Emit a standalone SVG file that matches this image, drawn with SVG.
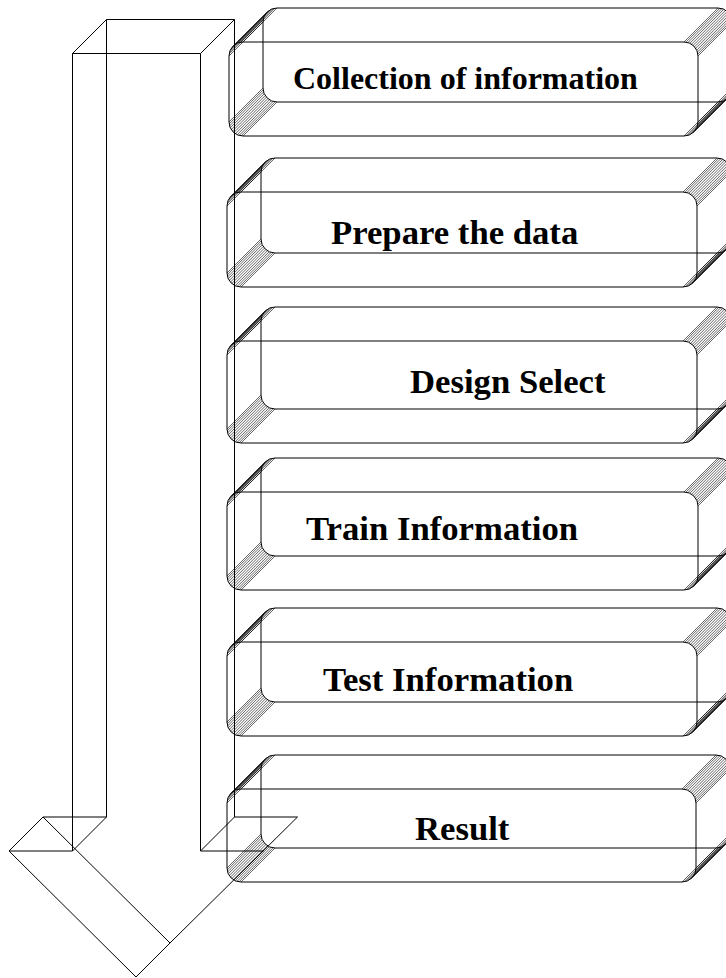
<svg xmlns="http://www.w3.org/2000/svg" width="726" height="978" viewBox="0 0 726 978">
<style>
.e{fill:none;stroke:#000;stroke-width:1}
.h{fill:none;stroke:#000;stroke-width:0.6}
.t{font-family:"Liberation Serif","Times New Roman",serif;font-weight:bold;font-size:34.7px;fill:#000}
</style>
<defs>
<path id="tl" class="h" d="M-14 0l34-34M-13.86 -1.99l34-34M-13.43 -3.94l34-34M-12.73 -5.82l34-34M-11.78 -7.57l34-34M-10.58 -9.17l34-34M-9.17 -10.58l34-34M-7.57 -11.78l34-34M-5.82 -12.73l34-34M-3.94 -13.43l34-34M-1.99 -13.86l34-34M0 -14l34-34"/>
<path id="tr" class="h" d="M14 0l34-34M13.86 -1.99l34-34M13.43 -3.94l34-34M12.73 -5.82l34-34M11.78 -7.57l34-34M10.58 -9.17l34-34M9.17 -10.58l34-34M7.57 -11.78l34-34M5.82 -12.73l34-34M3.94 -13.43l34-34M1.99 -13.86l34-34M0 -14l34-34"/>
<path id="bl" class="h" d="M-14 0l34-34M-13.86 1.99l34-34M-13.43 3.94l34-34M-12.73 5.82l34-34M-11.78 7.57l34-34M-10.58 9.17l34-34M-9.17 10.58l34-34M-7.57 11.78l34-34M-5.82 12.73l34-34M-3.94 13.43l34-34M-1.99 13.86l34-34M0 14l34-34"/>
<path id="br" class="h" d="M14 0l34-34M13.86 1.99l34-34M13.43 3.94l34-34M12.73 5.82l34-34M11.78 7.57l34-34M10.58 9.17l34-34M9.17 10.58l34-34M7.57 11.78l34-34M5.82 12.73l34-34M3.94 13.43l34-34M1.99 13.86l34-34M0 14l34-34"/>
</defs>
<g id="arrow" class="e">
<path d="M72.5 851V53.5H200.5V851M106.5 817V19.5H234.5V817M72.5 53.5L106.5 19.5M200.5 53.5L234.5 19.5"/>
<path d="M72.5 851H9L43 817H106.5M72.5 851L106.5 817M200.5 851H263.5M234.5 817H297.5M200.5 851L234.5 817"/>
<path d="M9 851L136 977L170 943M43 817L170 943M297.5 817L170 943"/>
</g>
<g id="box1">
<rect class="e" x="263" y="8" width="469" height="94" rx="14"/>
<rect class="e" x="229" y="42" width="469" height="94" rx="14"/>
<use href="#tl" x="243" y="56"/><use href="#tr" x="684" y="56"/><use href="#bl" x="243" y="122"/><use href="#br" x="684" y="122"/>
<text class="t" x="293" y="88.5" style="font-size:32px">Collection of information</text>
</g>
<g id="box2">
<rect class="e" x="261" y="158" width="470" height="95" rx="14"/>
<rect class="e" x="227" y="192" width="470" height="95" rx="14"/>
<use href="#tl" x="241" y="206"/><use href="#tr" x="683" y="206"/><use href="#bl" x="241" y="273"/><use href="#br" x="683" y="273"/>
<text class="t" x="331" y="244">Prepare the data</text>
</g>
<g id="box3">
<rect class="e" x="261" y="307" width="470" height="102" rx="14"/>
<rect class="e" x="227" y="341" width="470" height="102" rx="14"/>
<use href="#tl" x="241" y="355"/><use href="#tr" x="683" y="355"/><use href="#bl" x="241" y="429"/><use href="#br" x="683" y="429"/>
<text class="t" x="410" y="393">Design Select</text>
</g>
<g id="box4">
<rect class="e" x="261" y="458" width="471" height="98" rx="14"/>
<rect class="e" x="227" y="492" width="471" height="98" rx="14"/>
<use href="#tl" x="241" y="506"/><use href="#tr" x="684" y="506"/><use href="#bl" x="241" y="576"/><use href="#br" x="684" y="576"/>
<text class="t" x="306" y="540">Train Information</text>
</g>
<g id="box5">
<rect class="e" x="261" y="608" width="470" height="94" rx="14"/>
<rect class="e" x="227" y="642" width="470" height="94" rx="14"/>
<use href="#tl" x="241" y="656"/><use href="#tr" x="683" y="656"/><use href="#bl" x="241" y="722"/><use href="#br" x="683" y="722"/>
<text class="t" x="323" y="691">Test Information</text>
</g>
<g id="box6">
<rect class="e" x="261" y="755" width="469" height="93" rx="14"/>
<rect class="e" x="227" y="789" width="469" height="93" rx="14"/>
<use href="#tl" x="241" y="803"/><use href="#tr" x="682" y="803"/><use href="#bl" x="241" y="868"/><use href="#br" x="682" y="868"/>
<text class="t" x="415" y="840">Result</text>
</g>
</svg>
